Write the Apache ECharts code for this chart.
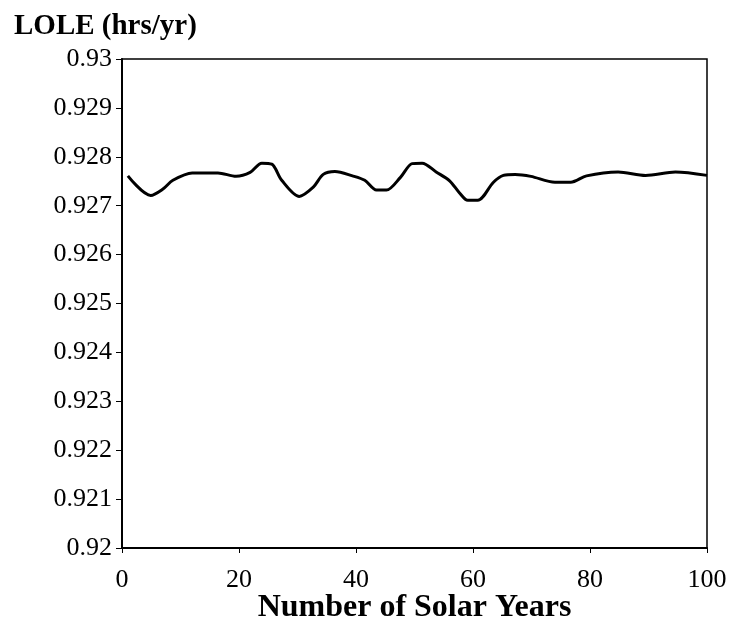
<!DOCTYPE html>
<html>
<head>
<meta charset="utf-8">
<script src="https://cdn.jsdelivr.net/npm/echarts@6/dist/echarts.min.js"></script>
<style>html,body{margin:0;padding:0;background:#fff;}#c{width:730px;height:634px;}</style>
</head>
<body>
<div id="c"></div>
<script>
var years = [1, 4.9, 7, 8.7, 12, 16.4, 19.5, 21.9, 23.9, 25.6, 27.3, 30.3, 32.7, 34.4, 36.4, 39.4, 41.5, 43.5, 45.2, 47.6, 49.6, 51.3, 53.7, 56, 57.7, 59.1, 60.8, 63.5, 65.2, 67.2, 69.9, 74, 76.7, 79.4, 84.8, 89.5, 94.6, 100];
var lole = [0.92761, 0.92721, 0.92734, 0.92752, 0.92767, 0.92767, 0.92760, 0.92768, 0.92787, 0.92785, 0.92752, 0.92719, 0.92738, 0.92764, 0.92770, 0.92761, 0.92752, 0.92732, 0.92732, 0.92758, 0.92786, 0.92787, 0.92769, 0.92751, 0.92726, 0.92711, 0.92711, 0.92748, 0.92762, 0.92764, 0.92760, 0.92748, 0.92748, 0.92761, 0.92769, 0.92762, 0.92769, 0.92762];
var yTitle = 'LOLE (hrs/yr)';
var xTitle = 'Number of Solar Years';

var pts = years.map(function (x, i) { return [x, lole[i]]; });
var chart = echarts.init(document.getElementById('c'), null, {renderer: 'canvas'});
var serif = '"Liberation Serif", "Times New Roman", serif';
chart.setOption({
  animation: false,
  backgroundColor: '#fff',
  title: {
    text: yTitle, left: 9, top: 7,
    textStyle: {fontFamily: serif, fontWeight: 'bold', fontSize: 29, color: '#000'}
  },
  grid: {left: 122, right: 23, top: 59, bottom: 86, show: true, borderColor: '#000', borderWidth: 1.5},
  xAxis: {
    type: 'value', min: 0, max: 100, interval: 20,
    name: xTitle, nameLocation: 'middle', nameGap: 44, nameMoveOverlap: false,
    nameTextStyle: {fontFamily: serif, fontWeight: 'bold', fontSize: 32, color: '#000'},
    axisLine: {show: true, lineStyle: {color: '#000', width: 2}},
    axisTick: {show: true, length: 5, lineStyle: {color: '#000', width: 1}},
    axisLabel: {fontFamily: serif, fontSize: 26, color: '#000', margin: 19},
    splitLine: {show: false}
  },
  yAxis: {
    type: 'value', min: 0.92, max: 0.93, interval: 0.001,
    axisLine: {show: true, lineStyle: {color: '#000', width: 2}},
    axisTick: {show: true, length: 6, lineStyle: {color: '#000', width: 1}},
    axisLabel: {fontFamily: serif, fontSize: 26, color: '#000', margin: 10,
      formatter: function (v) { return String(parseFloat(v.toFixed(3))); }},
    splitLine: {show: false}
  },
  series: [{
    type: 'line', data: pts, smooth: 0.3, showSymbol: false,
    lineStyle: {color: '#000', width: 3}
  }]
});
</script>
</body>
</html>
